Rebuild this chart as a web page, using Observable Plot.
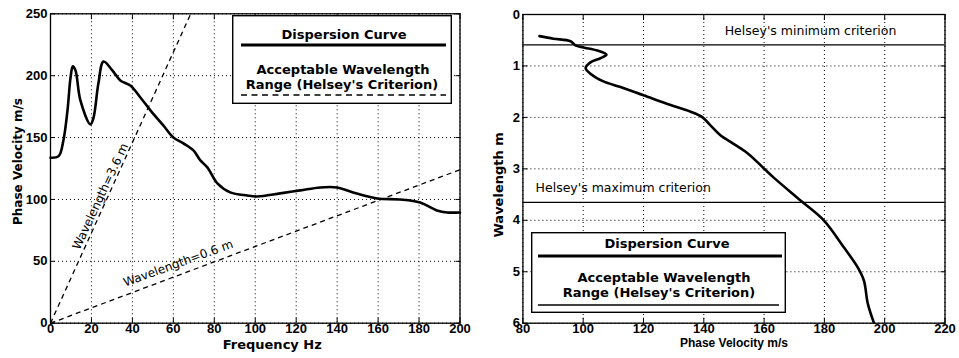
<!DOCTYPE html>
<html><head><meta charset="utf-8">
<script src="https://cdn.jsdelivr.net/npm/d3@7"></script>
<script src="https://cdn.jsdelivr.net/npm/@observablehq/plot@0.6"></script>
<style>
html,body{margin:0;padding:0;background:#fff;}
#wrap{position:relative;width:959px;height:358px;display:flex;}
#wrap svg.ov{position:absolute;overflow:visible;}
</style>
</head><body>
<div id="wrap"></div>
<script>
// ---------- Left panel: dispersion curve (frequency vs phase velocity) ----------
const freqHz = [0, 4, 6.3, 8.3, 9.8, 10.9, 12.2, 14.6, 19.5, 21, 23.4, 25.9, 30.2, 34.1, 39, 43.9, 48.8, 55.1, 60, 64.9, 69.8, 73.2, 76.6, 81.5, 87.8, 96.1, 101, 112.2, 122, 131.7, 140, 147.8, 159.5, 170.7, 180.5, 188.8, 193.7, 200];
const phaseVel = [133.7, 135, 147.7, 172, 198.6, 207.5, 204.3, 180, 160.6, 166, 193.8, 211.5, 204.3, 196.2, 192, 182.4, 172, 159.8, 150.1, 145.3, 139.6, 131.5, 125.9, 113, 105.7, 103.2, 102.4, 104.9, 107.3, 109.7, 109.7, 105.7, 100.8, 100, 97.6, 91.1, 89.5, 89.5];
const freqTicks = [0, 20, 40, 60, 80, 100, 120, 140, 160, 180, 200];
const velTicks = [0, 50, 100, 150, 200, 250];
// dashed constant-wavelength guide lines (start/end)
const guideName = ["3.6 m", "0.6 m"];
const guideFreq0 = [0, 0];
const guideVel0 = [0, 0];
const guideFreq1 = [68.5, 200];
const guideVel1 = [250, 124];
const guideLabel = ["Wavelength=3.6 m", "Wavelength=0.6 m"];
const guideLabelFreq = [24.4, 62.4];
const guideLabelVel = [102.4, 48.3];
const guideLabelAngle = [-65, -20];

// ---------- Right panel: phase velocity vs wavelength ----------
const rVel = [85.5, 90.1, 95.8, 97.4, 100.1, 104.7, 107.7, 105.7, 102.4, 100.8, 102.4, 106.7, 112.4, 120, 129, 135.6, 139.6, 142.3, 145.6, 149, 154.6, 159.9, 163.2, 172.2, 179.8, 186.5, 191.1, 193.1, 194.4, 196.4];
const rWave = [0.42, 0.47, 0.52, 0.60, 0.64, 0.70, 0.78, 0.85, 0.93, 1.04, 1.15, 1.30, 1.41, 1.57, 1.76, 1.89, 2.0, 2.16, 2.35, 2.48, 2.70, 2.99, 3.17, 3.62, 4.0, 4.53, 4.92, 5.17, 5.62, 5.99];
const pvTicks = [80, 100, 120, 140, 160, 180, 200, 220];
const waveTicks = [0, 1, 2, 3, 4, 5, 6];
const criterionWave = [0.59, 3.65];
const criterionLabel = ["Helsey's minimum criterion", "Helsey's maximum criterion"];
const criterionLabelVel = [175.4, 84.2];
const criterionAnchor = ["middle", "start"];

// legend texts
const legendTitle = "Dispersion Curve";
const legendRange = ["Acceptable Wavelength", "Range (Helsey's Criterion)"];

const curve = freqHz.map((f, i) => ({f, v: phaseVel[i]}));
const guides = guideName.map((n, i) => ({n, x1: guideFreq0[i], y1: guideVel0[i], x2: guideFreq1[i], y2: guideVel1[i]}));
const guideLabels = guideLabel.map((t, i) => ({t, f: guideLabelFreq[i], v: guideLabelVel[i], a: guideLabelAngle[i]}));
const rCurve = rVel.map((v, i) => ({v, w: rWave[i]}));
const crit = criterionWave.map((w, i) => ({w, t: criterionLabel[i], v: criterionLabelVel[i], anchor: criterionAnchor[i]}));

const gridStyle = {stroke: "black", strokeOpacity: 1, strokeWidth: 1, strokeDasharray: "1,3"};
const svgStyle = "font-family:'Liberation Sans',Arial,sans-serif;font-size:13px;font-weight:bold;background:white;color:black;overflow:visible;";
const titleFont = {fontFamily: "DejaVu Sans", fontWeight: "bold", fill: "black"};
const intFmt = d3.format("d");

function axes(xt, yt) {
  return [
    Plot.axisX(xt, {anchor: "bottom", tickSize: 0, tickPadding: 1, tickFormat: intFmt, label: null}),
    Plot.axisY(yt, {anchor: "left", tickSize: 0, tickPadding: 3, tickFormat: intFmt, label: null}),
    Plot.axisX(xt, {anchor: "bottom", tickSize: -5, tickFormat: () => "", label: null}),
    Plot.axisX(xt, {anchor: "top", tickSize: -5, tickFormat: () => "", label: null}),
    Plot.axisY(yt, {anchor: "left", tickSize: -5, tickFormat: () => "", label: null}),
    Plot.axisY(yt, {anchor: "right", tickSize: -5, tickFormat: () => "", label: null})
  ];
}

const left = Plot.plot({
  width: 480, height: 358,
  marginLeft: 50, marginRight: 20.5, marginTop: 13.3, marginBottom: 35.3,
  style: svgStyle,
  x: {domain: [0, 200]},
  y: {domain: [0, 250]},
  marks: [
    Plot.gridX(freqTicks, gridStyle),
    Plot.gridY(velTicks, gridStyle),
    ...axes(freqTicks, velTicks),
    Plot.link(guides, {x1: "x1", y1: "y1", x2: "x2", y2: "y2", stroke: "black", strokeWidth: 1.3, strokeDasharray: "5,4"}),
    Plot.line(curve, {x: "f", y: "v", stroke: "black", strokeWidth: 2.6, curve: "catmull-rom"}),
    Plot.text(guideLabels, {x: "f", y: "v", text: "t", rotate: "a", fontFamily: "DejaVu Sans", fontWeight: "normal", fontSize: 12, fill: "black"}),
    Plot.text(["Frequency Hz"], {text: d => d, frameAnchor: "bottom", textAnchor: "middle", lineAnchor: "middle", dy: 22, dx: 17, fontSize: 13, ...titleFont}),
    Plot.text(["Phase Velocity m/s"], {text: d => d, frameAnchor: "left", textAnchor: "middle", lineAnchor: "middle", dx: -32, dy: -7, rotate: -90, fontSize: 12, ...titleFont}),
    Plot.frame({stroke: "black", strokeWidth: 1.3})
  ]
});

const right = Plot.plot({
  width: 479, height: 358,
  marginLeft: 42.4, marginRight: 14.5, marginTop: 14, marginBottom: 35.3,
  style: svgStyle,
  x: {domain: [80, 220]},
  y: {domain: [0, 6], reverse: true},
  marks: [
    Plot.gridX(pvTicks, gridStyle),
    Plot.gridY(waveTicks, gridStyle),
    ...axes(pvTicks, waveTicks),
    Plot.ruleY(crit, {y: "w", stroke: "black", strokeWidth: 1.3}),
    Plot.text(crit, {x: "v", y: "w", text: "t", textAnchor: "start", dy: -14, fontFamily: "DejaVu Sans", fontWeight: "normal", fontSize: 12.5, fill: "black", filter: d => d.anchor === "start"}),
    Plot.text(crit, {x: "v", y: "w", text: "t", textAnchor: "middle", dy: -14, fontFamily: "DejaVu Sans", fontWeight: "normal", fontSize: 12.5, fill: "black", filter: d => d.anchor === "middle"}),
    Plot.line(rCurve, {x: "v", y: "w", stroke: "black", strokeWidth: 2.6, curve: "catmull-rom"}),
    Plot.text(["Phase Velocity m/s"], {text: d => d, frameAnchor: "bottom", textAnchor: "middle", lineAnchor: "middle", dy: 20, fontFamily: "Liberation Sans", fontWeight: "bold", fontSize: 12, fill: "black"}),
    Plot.text(["Wavelength m"], {text: d => d, frameAnchor: "left", textAnchor: "middle", lineAnchor: "middle", dx: -24, dy: 16, rotate: -90, fontSize: 13, ...titleFont}),
    Plot.frame({stroke: "black", strokeWidth: 1.3})
  ]
});

const wrap = document.getElementById("wrap");
wrap.appendChild(left);
wrap.appendChild(right);

// ---------- Legends (overlay boxes) ----------
function legend(box, sample, dashed) {
  const svg = d3.select(wrap).append("svg").attr("class", "ov")
    .attr("width", box.w).attr("height", box.h)
    .style("left", box.x + "px").style("top", box.y + "px");
  svg.append("rect").attr("x", 0.7).attr("y", 0.7).attr("width", box.w - 1.4).attr("height", box.h - 1.4)
    .attr("fill", "white").attr("stroke", "black").attr("stroke-width", 1.4);
  const t = svg.append("g").attr("font-family", "DejaVu Sans").attr("font-weight", "bold")
    .attr("font-size", 13).attr("text-anchor", "middle").attr("fill", "black");
  t.append("text").attr("x", box.c1).attr("y", box.t1).attr("dy", "0.36em").text(legendTitle);
  svg.append("line").attr("x1", sample.x1).attr("x2", sample.x2).attr("y1", box.l1).attr("y2", box.l1)
    .attr("stroke", "black").attr("stroke-width", 3);
  legendRange.forEach((s, i) => {
    t.append("text").attr("x", box.c2 - i * box.shift).attr("y", box.t2 + i * 15).attr("dy", "0.36em").text(s);
  });
  const l2 = svg.append("line").attr("x1", sample.x1).attr("x2", sample.x2 - (dashed ? 0 : 3)).attr("y1", box.l2).attr("y2", box.l2)
    .attr("stroke", "black").attr("stroke-width", 1.3);
  if (dashed) l2.attr("stroke-dasharray", "6,4.5");
}
legend({x: 232, y: 15, w: 220, h: 89, c1: 112, t1: 19, l1: 30, c2: 111, t2: 54, shift: 1, l2: 80}, {x1: 9, x2: 214}, true);
legend({x: 531, y: 232, w: 255, h: 81, c1: 136, t1: 11, l1: 24, c2: 133, t2: 45, shift: 5, l2: 73}, {x1: 7, x2: 251}, false);
</script>
</body></html>
